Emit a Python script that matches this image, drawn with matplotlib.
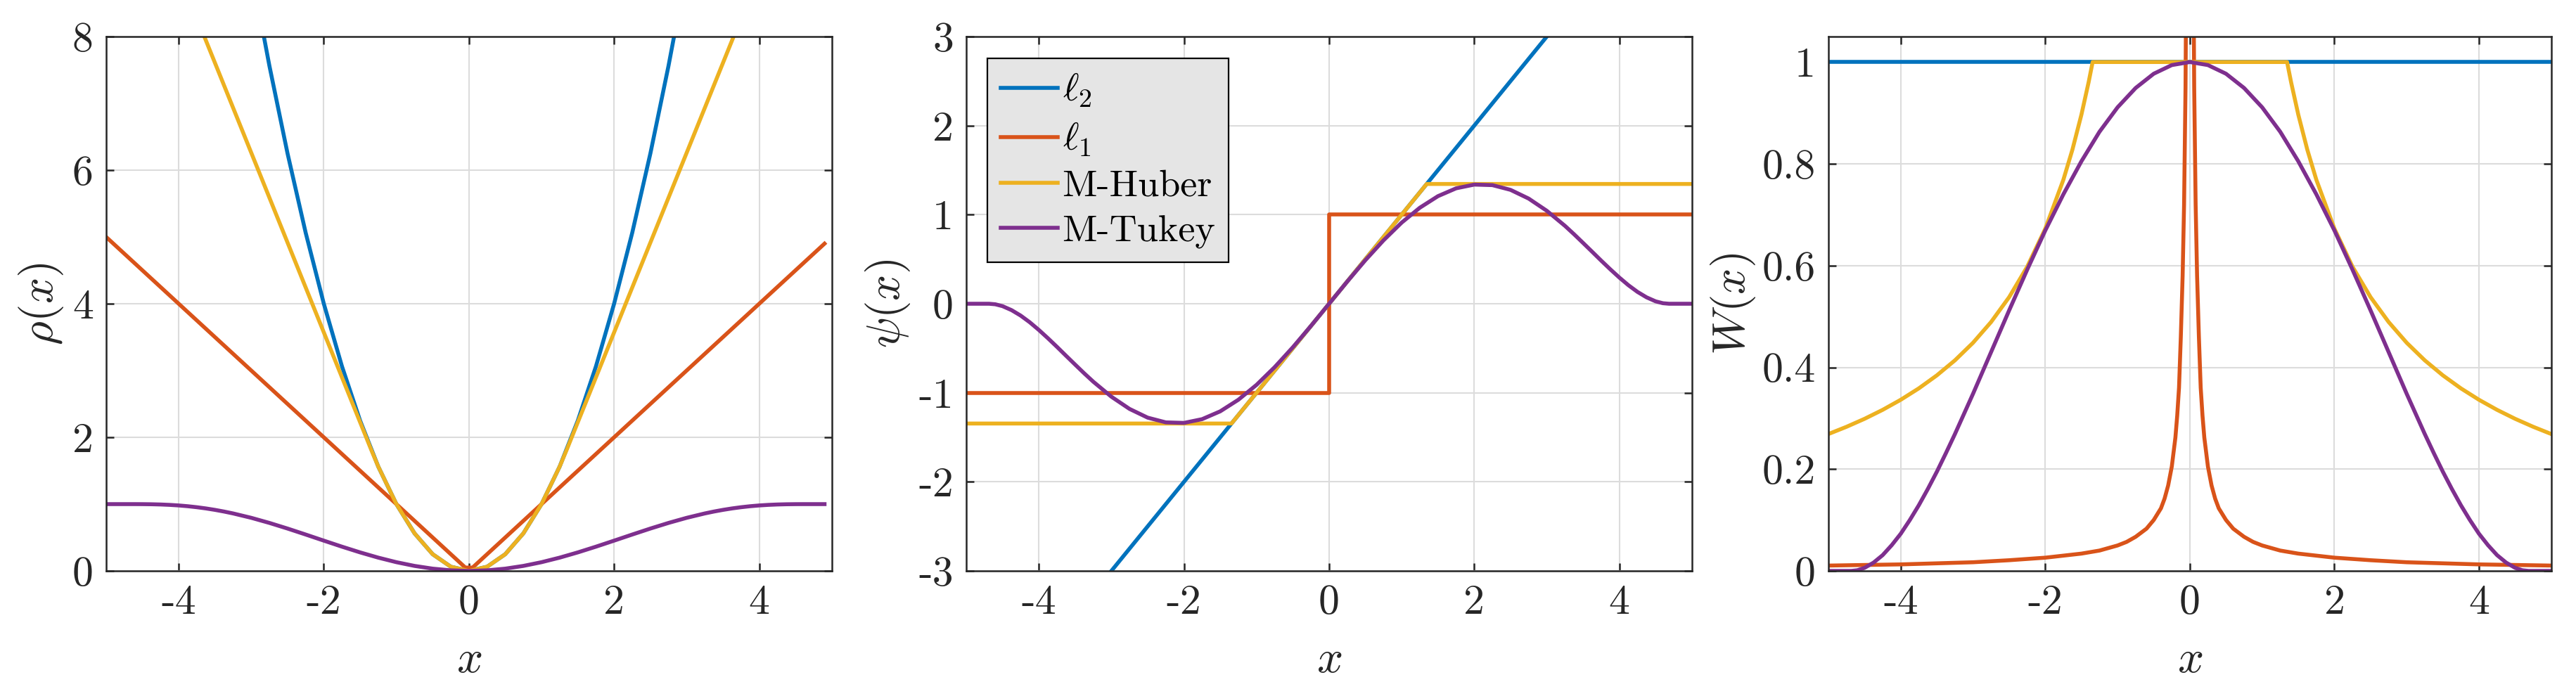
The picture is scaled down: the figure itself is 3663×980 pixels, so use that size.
import numpy as np
import matplotlib
matplotlib.use("Agg")
import matplotlib.pyplot as plt

# MATLAB-like look with Computer Modern text
plt.rcParams['font.family'] = 'serif'
plt.rcParams['font.serif'] = ['cmr10']
plt.rcParams['mathtext.fontset'] = 'cm'
plt.rcParams['axes.unicode_minus'] = False
plt.rcParams['axes.formatter.use_mathtext'] = True

# ---- data ----
names = [r'$\ell_2$', r'$\ell_1$', 'M-Huber', 'M-Tukey']
colors = ['#0072BD', '#D95319', '#EDB120', '#7E2F8E']

# grids for the Tukey curves (rho ends at 4.9, psi and W at 5)
x_rho = [-5.0, -4.685, -4.6, -4.5, -4.375, -4.25, -4.125, -4.0, -3.875, -3.75,
         -3.625, -3.5, -3.375, -3.25, -3.0, -2.75, -2.5, -2.25, -2.0, -1.75,
         -1.5, -1.25, -1.0, -0.75, -0.5, -0.25, 0.0, 0.25, 0.5, 0.75, 1.0, 1.25,
         1.5, 1.75, 2.0, 2.25, 2.5, 2.75, 3.0, 3.25, 3.375, 3.5, 3.625, 3.75,
         3.875, 4.0, 4.125, 4.25, 4.375, 4.5, 4.6, 4.685, 4.9]
x_psi = [-5.0, -4.685, -4.6, -4.5, -4.375, -4.25, -4.125, -4.0, -3.875, -3.75,
         -3.625, -3.5, -3.375, -3.25, -3.0, -2.75, -2.5, -2.25, -2.0, -1.75,
         -1.5, -1.25, -1.0, -0.75, -0.5, -0.25, 0.0, 0.25, 0.5, 0.75, 1.0, 1.25,
         1.5, 1.75, 2.0, 2.25, 2.5, 2.75, 3.0, 3.25, 3.375, 3.5, 3.625, 3.75,
         3.875, 4.0, 4.125, 4.25, 4.375, 4.5, 4.6, 4.685, 5.0]

# rho(x)
x_rho_l2 = [-3.0, -2.75, -2.5, -2.25, -2.0, -1.75, -1.5, -1.25, -1.0, -0.75, -0.5,
            -0.25, 0.0, 0.25, 0.5, 0.75, 1.0, 1.25, 1.5, 1.75, 2.0, 2.25, 2.5,
            2.75, 3.0]
rho_l2 = [9.0, 7.5625, 6.25, 5.0625, 4.0, 3.0625, 2.25, 1.5625, 1.0, 0.5625, 0.25,
          0.0625, 0.0, 0.0625, 0.25, 0.5625, 1.0, 1.5625, 2.25, 3.0625, 4.0,
          5.0625, 6.25, 7.5625, 9.0]
x_rho_l1 = [-5.0, -0.05, 0.05, 4.9]
rho_l1 = [5.0, 0.05, 0.05, 4.9]
x_rho_hub = [-5.0, -1.345, -1.25, -1.0, -0.75, -0.5, -0.25, 0.0, 0.25, 0.5, 0.75,
             1.0, 1.25, 1.345, 4.9]
rho_hub = [11.64, 1.809, 1.5625, 1.0, 0.5625, 0.25, 0.0625, 0.0, 0.0625, 0.25,
           0.5625, 1.0, 1.5625, 1.809, 11.37]
rho_tuk = [1.0, 1.0, 1.0, 0.9995, 0.9979, 0.9944, 0.9886, 0.9801, 0.9685, 0.9536,
           0.9354, 0.9137, 0.8887, 0.8604, 0.7947, 0.7184, 0.6341, 0.5446, 0.4531,
           0.3629, 0.2771, 0.1987, 0.1305, 0.0749, 0.0338, 0.0085, 0.0, 0.0085,
           0.0338, 0.0749, 0.1305, 0.1987, 0.2771, 0.3629, 0.4531, 0.5446, 0.6341,
           0.7184, 0.7947, 0.8604, 0.8887, 0.9137, 0.9354, 0.9536, 0.9685, 0.9801,
           0.9886, 0.9944, 0.9979, 0.9995, 1.0, 1.0, 1.0]

# psi(x)
x_psi_l2 = [-5.0, 5.0]
psi_l2 = [-5.0, 5.0]
x_psi_l1 = [-5.0, 0.0, 0.0, 5.0]
psi_l1 = [-1.0, -1.0, 1.0, 1.0]
x_psi_hub = [-5.0, -1.345, 1.345, 5.0]
psi_hub = [-1.345, -1.345, 1.345, 1.345]
psi_tuk = [0.0, 0.0, -0.006, -0.027, -0.072, -0.133, -0.208, -0.294, -0.387,
           -0.484, -0.584, -0.683, -0.781, -0.875, -1.044, -1.181, -1.279, -1.332,
           -1.338, -1.296, -1.208, -1.078, -0.911, -0.712, -0.489, -0.249, 0.0,
           0.249, 0.489, 0.712, 0.911, 1.078, 1.208, 1.296, 1.338, 1.332, 1.279,
           1.181, 1.044, 0.875, 0.781, 0.683, 0.584, 0.484, 0.387, 0.294, 0.208,
           0.133, 0.072, 0.027, 0.006, 0.0, 0.0]

# W(x)
x_w_l2 = [-5.0, 5.0]
w_l2 = [1.0, 1.0]
x_w_l1 = [-5.0, -4.0, -3.0, -2.5, -2.0, -1.5, -1.25, -1.0, -0.875, -0.75, -0.6,
          -0.5, -0.4, -0.35, -0.3, -0.25, -0.2, -0.175, -0.15, -0.125, -0.1, -0.08,
          -0.06, -0.04, 0.0, 0.04, 0.06, 0.08, 0.1, 0.125, 0.15, 0.175, 0.2, 0.25,
          0.3, 0.35, 0.4, 0.5, 0.6, 0.75, 0.875, 1.0, 1.25, 1.5, 2.0, 2.5, 3.0,
          4.0, 5.0]
w_l1 = [0.0105, 0.0128, 0.017, 0.021, 0.026, 0.034, 0.04, 0.05, 0.057, 0.067,
        0.083, 0.1, 0.123, 0.142, 0.168, 0.205, 0.262, 0.305, 0.36, 0.46, 0.58,
        0.72, 0.95, 1.4, np.nan, 1.4, 0.95, 0.72, 0.58, 0.46, 0.36, 0.305, 0.262,
        0.205, 0.168, 0.142, 0.123, 0.1, 0.083, 0.067, 0.057, 0.05, 0.04, 0.034,
        0.026, 0.021, 0.017, 0.0128, 0.0105]
x_w_hub = [-5.0, -4.75, -4.5, -4.25, -4.0, -3.75, -3.5, -3.25, -3.0, -2.75, -2.5,
           -2.25, -2.0, -1.75, -1.625, -1.5, -1.4, -1.345, 1.345, 1.4, 1.5, 1.625,
           1.75, 2.0, 2.25, 2.5, 2.75, 3.0, 3.25, 3.5, 3.75, 4.0, 4.25, 4.5, 4.75,
           5.0]
w_hub = [0.269, 0.2832, 0.2989, 0.3165, 0.3363, 0.3587, 0.3843, 0.4138, 0.4483,
         0.4891, 0.538, 0.5978, 0.6725, 0.7686, 0.8277, 0.8967, 0.9607, 1.0, 1.0,
         0.9607, 0.8967, 0.8277, 0.7686, 0.6725, 0.5978, 0.538, 0.4891, 0.4483,
         0.4138, 0.3843, 0.3587, 0.3363, 0.3165, 0.2989, 0.2832, 0.269]
w_tuk = [0.0, 0.0, 0.0013, 0.006, 0.0164, 0.031, 0.0505, 0.073, 0.0998, 0.129,
         0.161, 0.195, 0.2314, 0.269, 0.348, 0.430, 0.512, 0.592, 0.669, 0.740,
         0.805, 0.863, 0.911, 0.949, 0.977, 0.994, 1.0, 0.994, 0.977, 0.949, 0.911,
         0.863, 0.805, 0.740, 0.669, 0.592, 0.512, 0.430, 0.348, 0.269, 0.2314,
         0.195, 0.161, 0.129, 0.0998, 0.073, 0.0505, 0.031, 0.0164, 0.006, 0.0013,
         0.0, 0.0]

x_ticks = [-4, -2, 0, 2, 4]
x_ticklabels = ['-4', '-2', '0', '2', '4']
rho_ticks = [0, 2, 4, 6, 8]
rho_ticklabels = ['0', '2', '4', '6', '8']
psi_ticks = [-3, -2, -1, 0, 1, 2, 3]
psi_ticklabels = ['-3', '-2', '-1', '0', '1', '2', '3']
w_ticks = [0, 0.2, 0.4, 0.6, 0.8, 1.0]
w_ticklabels = ['0', '0.2', '0.4', '0.6', '0.8', '1']

# ---- figure ----
axcol = '#262626'
lw = 4.0
tick_fs = 43
label_fs = 47
legend_fs = 39

fig = plt.figure(figsize=(36.63, 9.8), dpi=100)
bottom, height = 0.1714, 0.7755
ax1 = fig.add_axes([0.0412, bottom, 0.2817, height])
ax2 = fig.add_axes([0.3751, bottom, 0.2817, height])
ax3 = fig.add_axes([0.7098, bottom, 0.2806, height])


def style(ax, yticks, yticklabels, ylim, ylabel, ylab_x):
    ax.set_xlim(-5, 5)
    ax.set_ylim(*ylim)
    ax.set_xticks(x_ticks)
    ax.set_xticklabels(x_ticklabels)
    ax.set_yticks(yticks)
    ax.set_yticklabels(yticklabels)
    ax.grid(True, color='#dcdcdc', linewidth=1.5)
    ax.set_axisbelow(True)
    for sp in ax.spines.values():
        sp.set_color(axcol)
        sp.set_linewidth(1.8)
    ax.tick_params(direction='in', length=7.7, width=1.8, color=axcol,
                   labelcolor=axcol, labelsize=tick_fs, top=True, right=True)
    ax.tick_params(axis='x', pad=14)
    ax.tick_params(axis='y', pad=13)
    ax.set_xlabel(r'$x$', fontsize=label_fs, color=axcol, va='center')
    ax.set_ylabel(ylabel, fontsize=label_fs, color=axcol, va='center')
    ax.xaxis.set_label_coords(0.5, -0.168)
    ax.yaxis.set_label_coords(ylab_x, 0.5)


# rho
ax1.plot(x_rho_l2, rho_l2, color=colors[0], lw=lw)
ax1.plot(x_rho_l1, rho_l1, color=colors[1], lw=lw)
ax1.plot(x_rho_hub, rho_hub, color=colors[2], lw=lw)
ax1.plot(x_rho, rho_tuk, color=colors[3], lw=lw)
style(ax1, rho_ticks, rho_ticklabels, (0, 8), r'$\rho(x)$', -0.090)

# psi
ax2.plot(x_psi_l2, psi_l2, color=colors[0], lw=lw, label=names[0])
ax2.plot(x_psi_l1, psi_l1, color=colors[1], lw=lw, label=names[1])
ax2.plot(x_psi_hub, psi_hub, color=colors[2], lw=lw, label=names[2])
ax2.plot(x_psi, psi_tuk, color=colors[3], lw=lw, label=names[3])
style(ax2, psi_ticks, psi_ticklabels, (-3, 3), r'$\psi(x)$', -0.1085)
leg = ax2.legend(loc='upper left', bbox_to_anchor=(0.029, 0.959),
                 fontsize=legend_fs, frameon=True, fancybox=False,
                 framealpha=1, facecolor='#e5e5e5', edgecolor='black',
                 handlelength=1.5, handletextpad=0.12,
                 borderpad=0.35, labelspacing=0.3, borderaxespad=0)
leg.get_frame().set_linewidth(1.6)

# W
ax3.plot(x_w_l2, w_l2, color=colors[0], lw=lw)
ax3.plot(x_w_l1, w_l1, color=colors[1], lw=lw)
ax3.plot(x_w_hub, w_hub, color=colors[2], lw=lw)
ax3.plot(x_psi, w_tuk, color=colors[3], lw=lw)
style(ax3, w_ticks, w_ticklabels, (0, 1.05), r'$W(x)$', -0.132)

fig.savefig('out.png', dpi=100)
